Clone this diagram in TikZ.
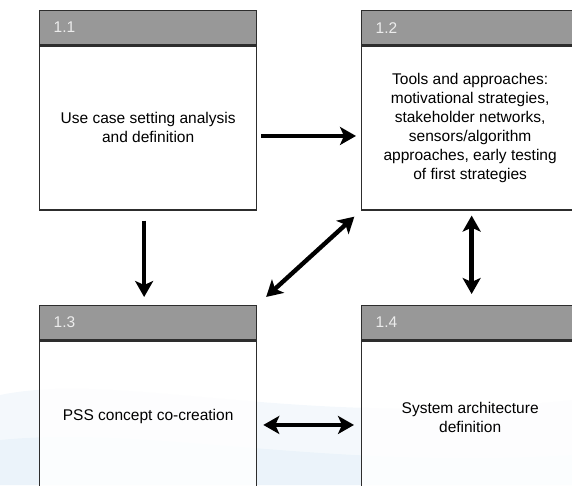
\documentclass[tikz,border=0pt]{standalone}
\usepackage{fontspec}
\setmainfont{Liberation Sans}
\usepackage{tikz}
\usetikzlibrary{arrows.meta,positioning,calc}
\definecolor{frame}{RGB}{45,45,45}
\definecolor{headgray}{RGB}{152,152,152}
\definecolor{headtext}{RGB}{236,236,236}
\definecolor{haze}{RGB}{200,222,240}

\begin{document}
\begin{tikzpicture}[x=1pt,y=-1pt,
  font=\fontsize{15.5}{19}\selectfont,
  head/.style={rectangle,draw=frame,line width=1.3pt,fill=headgray,text=headtext,anchor=north west,inner xsep=14pt,text width=189pt,minimum height=34pt,align=left},
  body/.style={rectangle,draw=frame,line width=1.3pt,fill=white,fill opacity=.85,text opacity=1,text=black,align=center,minimum width=217pt},
  arrow/.style={-{Stealth[length=16pt,width=18pt,inset=4pt]},draw=black,line width=4.4pt},
  twoway/.style={arrow,{Stealth[length=16pt,width=18pt,inset=4pt]}-{Stealth[length=16pt,width=18pt,inset=4pt]}}
]
\useasboundingbox (0,0) rectangle (572,485);
\clip (0,0) rectangle (572,485);
% faint backdrop
\fill[haze,opacity=.2] (0,395) .. controls (120,370) and (300,430) .. (572,400) -- (572,485) -- (0,485) -- cycle;
\fill[haze,opacity=.2] (0,440) .. controls (150,425) and (320,470) .. (572,455) -- (572,485) -- (0,485) -- cycle;
% boxes
\node[head] (usecasehd) at (39,10) {1.1};
\node[body,minimum height=164pt,below=0pt of usecasehd] (usecase) {Use case setting analysis\\and definition};
\node[head] (toolshd) at (361,10) {1.2};
\node[body,minimum height=164pt,below=0pt of toolshd] (tools) {Tools and approaches:\\motivational strategies,\\stakeholder networks,\\sensors/algorithm\\approaches, early testing\\of first strategies};
\node[head] (psshd) at (39,305) {1.3};
\node[body,minimum height=152pt,below=0pt of psshd] (pss) {PSS concept co-creation};
\node[head] (archhd) at (361,305) {1.4};
\node[body,minimum height=152pt,below=0pt of archhd] (arch) {System architecture\\definition};
% connectors
\draw[arrow,shorten <=4pt,shorten >=5pt] ([yshift=-8pt]usecase.east) -- ([yshift=-8pt]usecase.east -| tools.west);
\draw[arrow,shorten <=10pt,shorten >=8pt] ([xshift=-4pt]usecase.south) -- ([xshift=-4pt]usecase.south |- psshd.north);
\draw[twoway,shorten <=12pt,shorten >=9pt] (psshd.north east) -- (tools.south west);
\draw[twoway,shorten <=5pt,shorten >=11pt] ([xshift=1.5pt]tools.south) -- ([xshift=1.5pt]tools.south |- archhd.north);
\draw[twoway,shorten <=6pt,shorten >=7pt] ([yshift=-8pt]pss.east) -- ([yshift=-8pt]pss.east -| arch.west);
\end{tikzpicture}
\end{document}
